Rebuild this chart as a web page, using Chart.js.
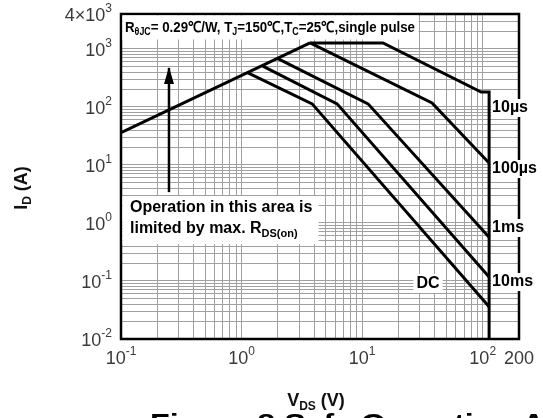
<!DOCTYPE html>
<html>
<head>
<meta charset="utf-8">
<script src="https://cdn.jsdelivr.net/npm/chart.js@4.4.1/dist/chart.umd.min.js"></script>
<style>
  html, body { margin: 0; padding: 0; background: #fff; }
  canvas { display: block; }
</style>
</head>
<body>
<canvas id="chart" width="543" height="418"></canvas>
<script>
// SOA boundaries, V_DS (V) vs I_D (A)
const rdsV = [0.1, 3.7];
const rdsI = [36, 1270];
const us10V = [3.7, 14.9, 97, 113, 113];
const us10I = [1270, 1270, 181, 181, 0.01];
const us100V = [3.7, 38, 113];
const us100I = [1270, 117, 10.8];
const ms1V = [2.0, 11.2, 113];
const ms1I = [680, 113, 0.57];
const ms10V = [1.5, 6.2, 113];
const ms10I = [505, 113, 0.117];
const dcV = [1.13, 3.85, 113];
const dcI = [388, 113, 0.036];
const arrowV = [0.25, 0.25];
const arrowI = [3.4, 470];

const xTickVals = [0.1, 1, 10, 100, 200];
const xTickBase = ['10', '10', '10', '10', '200'];
const xTickExp = ['-1', '0', '1', '2', ''];
const yTickVals = [0.01, 0.1, 1, 10, 100, 1000, 4000];
const yTickBase = ['10', '10', '10', '10', '10', '10', '4×10'];
const yTickExp = ['-2', '-1', '0', '1', '2', '3', '3'];

const FONT = '"Liberation Sans", Arial, sans-serif';

function pts(vs, is) {
  return vs.map((v, i) => ({ x: v, y: is[i] }));
}

// 1..9 x 10^k grid lines between min and max
function logGrid(min, max) {
  const out = [];
  for (let k = Math.floor(Math.log10(min)); k <= Math.ceil(Math.log10(max)); k++) {
    for (let m = 1; m <= 9; m++) {
      const v = +(m * Math.pow(10, k)).toPrecision(6);
      if (v >= min - 1e-12 && v <= max + 1e-9) out.push(v);
    }
  }
  return out;
}

function segs(ctx, parts, size, weight) {
  return parts.map(([t, k]) => {
    const s = k ? Math.round(size * 0.68) : size;
    const font = `${weight} ${s}px ${FONT}`;
    ctx.font = font;
    return { t, font, w: ctx.measureText(t).width, dy: k === 1 ? size * 0.3 : k === 2 ? -size * 0.42 : 0 };
  });
}

function drawRich(ctx, parts, size, weight, x, y, align) {
  const g = segs(ctx, parts, size, weight);
  const w = g.reduce((s, p) => s + p.w, 0);
  let cx = align === 'center' ? x - w / 2 : align === 'right' ? x - w : x;
  ctx.textAlign = 'left';
  ctx.textBaseline = 'middle';
  for (const p of g) {
    ctx.font = p.font;
    ctx.fillText(p.t, cx, y + p.dy);
    cx += p.w;
  }
  return w;
}

const decor = {
  id: 'decor',
  afterDraw(chart) {
    const ctx = chart.ctx, a = chart.chartArea;
    const xs = chart.scales.x, ys = chart.scales.y;
    ctx.save();
    ctx.fillStyle = '#000';

    // arrow head
    const ax = xs.getPixelForValue(arrowV[1]), ay = ys.getPixelForValue(arrowI[1]);
    ctx.beginPath();
    ctx.moveTo(ax, ay - 1);
    ctx.lineTo(ax - 5, ay + 16);
    ctx.lineTo(ax + 5, ay + 16);
    ctx.closePath();
    ctx.fill();

    // frame
    ctx.strokeStyle = '#000';
    ctx.lineWidth = 2.5;
    ctx.strokeRect(a.left, a.top, a.right - a.left, a.bottom - a.top);

    // condition line at the top
    const title = [['R', 0], ['θJC', 1], ['= 0.29℃/W, T', 0], ['J', 1], ['=150℃,T', 0], ['C', 1], ['=25℃,single pulse', 0]];
    ctx.fillStyle = '#fff';
    ctx.fillRect(a.left + 1.5, a.top + 1.5, 296, 24);
    const tw = segs(ctx, title, 15, 'bold').reduce((s, p) => s + p.w, 0);
    ctx.save();
    ctx.translate(a.left + 4, a.top + 14);
    ctx.scale(290 / tw, 1);
    ctx.fillStyle = '#000';
    drawRich(ctx, title, 15, 'bold', 0, 0, 'left');
    ctx.restore();

    // R_DS(on) note
    ctx.fillStyle = '#fff';
    ctx.fillRect(a.left + 1.5, 196, 196, 48);
    ctx.fillStyle = '#000';
    drawRich(ctx, [['Operation in this area is', 0]], 16, 'bold', 130, 208, 'left');
    drawRich(ctx, [['limited by max. R', 0], ['DS(on)', 1]], 16, 'bold', 130, 229, 'left');

    // pulse labels at the right
    const lx = xs.getPixelForValue(us10V[us10V.length - 1]) + 3;
    const labs = [['10µs', 108], ['100µs', 169], ['1ms', 228], ['10ms', 282]];
    for (const [t, y] of labs) {
      ctx.font = `bold 16px ${FONT}`;
      const w = ctx.measureText(t).width;
      ctx.fillStyle = '#fff';
      ctx.fillRect(lx - 1, y - 9, w + 3, 18);
      ctx.fillStyle = '#000';
      drawRich(ctx, [[t, 0]], 16, 'bold', lx, y, 'left');
    }
    ctx.font = `bold 16px ${FONT}`;
    const dw = ctx.measureText('DC').width;
    ctx.fillStyle = '#fff';
    ctx.fillRect(428 - dw / 2 - 3, 274, dw + 6, 19);
    ctx.fillStyle = '#000';
    drawRich(ctx, [['DC', 0]], 16, 'bold', 428, 284, 'center');

    // tick labels
    ctx.fillStyle = '#3a3a3a';
    xTickVals.forEach((v, i) => {
      const p = [[xTickBase[i], 0]];
      if (xTickExp[i]) p.push([xTickExp[i], 2]);
      drawRich(ctx, p, 18, 'normal', xs.getPixelForValue(v), 359, 'center');
    });
    yTickVals.forEach((v, i) => {
      drawRich(ctx, [[yTickBase[i], 0], [yTickExp[i], 2]], 18, 'normal', 112, ys.getPixelForValue(v) + 2, 'right');
    });

    // axis titles
    ctx.fillStyle = '#111';
    drawRich(ctx, [['V', 0], ['DS', 1], [' (V)', 0]], 18, 'bold', 316, 401, 'center');
    ctx.save();
    ctx.translate(22, 188);
    ctx.rotate(-Math.PI / 2);
    drawRich(ctx, [['I', 0], ['D', 1], [' (A)', 0]], 18, 'bold', 0, 0, 'center');
    ctx.restore();

    // figure caption, cut by the bottom edge
    ctx.font = `bold 26px ${FONT}`;
    const cw = ctx.measureText('Figure 8 Safe Operation ').width;
    ctx.save();
    ctx.translate(150, 432);
    ctx.scale(372 / cw, 1);
    ctx.textAlign = 'left';
    ctx.textBaseline = 'alphabetic';
    ctx.fillStyle = '#000';
    ctx.fillText('Figure 8 Safe Operation Area', 0, 0);
    ctx.restore();

    ctx.restore();
  }
};

const line = (data, w) => ({
  data, showLine: true, borderColor: '#000', borderWidth: w || 3,
  pointRadius: 0, fill: false, tension: 0
});

const xGrid = logGrid(0.1, 200);
const yGrid = logGrid(0.01, 4000);

new Chart(document.getElementById('chart').getContext('2d'), {
  type: 'scatter',
  data: {
    datasets: [
      line(pts(rdsV, rdsI)),
      line(pts(us10V, us10I)),
      line(pts(us100V, us100I)),
      line(pts(ms1V, ms1I)),
      line(pts(ms10V, ms10I)),
      line(pts(dcV, dcI)),
      line(pts(arrowV, arrowI), 2.5)
    ]
  },
  options: {
    responsive: false,
    animation: false,
    events: [],
    layout: { padding: { left: 121, top: 14, right: 24, bottom: 79 } },
    plugins: { legend: { display: false }, tooltip: { enabled: false } },
    scales: {
      x: {
        type: 'logarithmic', min: 0.1, max: 200,
        ticks: { display: false },
        border: { display: false },
        grid: { color: '#a0a0a0', lineWidth: 1, drawTicks: false },
        afterBuildTicks: s => { s.ticks = xGrid.map(v => ({ value: v })); }
      },
      y: {
        type: 'logarithmic', min: 0.01, max: 4000,
        ticks: { display: false },
        border: { display: false },
        grid: { color: '#a0a0a0', lineWidth: 1, drawTicks: false },
        afterBuildTicks: s => { s.ticks = yGrid.map(v => ({ value: v })); }
      }
    }
  },
  plugins: [decor]
});
</script>
</body>
</html>
